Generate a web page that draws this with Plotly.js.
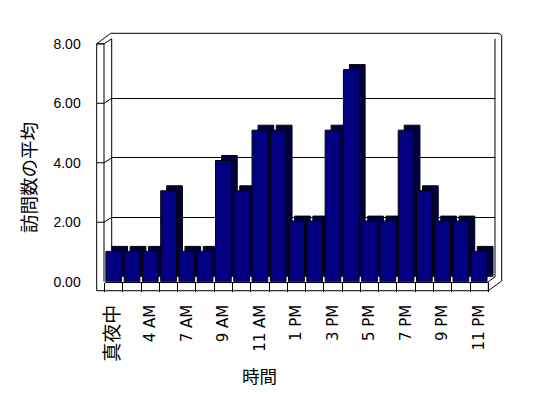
<!DOCTYPE html>
<html><head><meta charset="utf-8">
<script src="https://cdn.plot.ly/plotly-3.0.1.min.js"></script>
<style>html,body{margin:0;padding:0;background:#fff;}#chart{width:548px;height:398px;}</style>
</head><body><div id="chart"></div>
<script>
// ---- data ----
const categories = ['真夜中','1 AM','4 AM','5 AM','7 AM','8 AM','9 AM','10 AM','11 AM','正午','1 PM','2 PM','3 PM','4 PM','5 PM','6 PM','7 PM','8 PM','9 PM','10 PM','11 PM'];
const visits = [1,1,1,3,1,1,4,3,5,5,2,2,5,7,2,2,5,3,2,2,1];
const labeledTicks = ['真夜中','4 AM','7 AM','9 AM','11 AM','1 PM','3 PM','5 PM','7 PM','9 PM','11 PM'];
const yTicks = [0,2,4,6,8];
const yTitle = '訪問数の平均';
const xTitle = '時間';

// ---- layout helpers (pixel -> paper) ----
const W = 548, H = 398;
const PX = x => x / W, PY = y => 1 - y / H;
const xr = [-0.5, categories.length - 0.5];
const yr = [0, 8];
const LAT = 'Liberation Sans, Arial, Noto Sans CJK JP, sans-serif';
const XLAB = 'DejaVu Sans, Noto Sans CJK JP, sans-serif';
const CJK = 'Noto Sans CJK JP, sans-serif';

const frontX = [PX(104.6), PX(488.3)];
const frontY = [PY(281.7), PY(39.3)];
const dx = 6, dy = 5;
const depthX = [PX(104.6 + dx), PX(488.3 + dx)];
const depthY = [PY(281.7 - dy), PY(39.3 - dy)];
const backX = [PX(111.7), PX(495)];
const backY = [PY(276.8), PY(38.8)];
const labelY = [PY(281.7), PY(43.8)];

const ticktext = categories.map(c => {
  if (!labeledTicks.includes(c)) return '';
  return /[^\x00-\x7F]/.test(c) ? '<span style="font-size:19px">' + c + '</span>' : c;
});

const traces = [
  {type: 'scatter', mode: 'none', x: categories, y: visits, xaxis: 'x', yaxis: 'y', hoverinfo: 'skip', showlegend: false},
  {type: 'bar', x: categories, y: visits, xaxis: 'x2', yaxis: 'y2',
   marker: {color: '#000040', line: {color: '#000000', width: 1}}, hoverinfo: 'skip', showlegend: false},
  {type: 'bar', x: categories, y: visits, xaxis: 'x3', yaxis: 'y3',
   marker: {color: '#000080', line: {color: '#000000', width: 1}}, hoverinfo: 'skip', showlegend: false},
  {type: 'scatter', mode: 'none', x: categories, y: visits, xaxis: 'x3', yaxis: 'y4', hoverinfo: 'skip', showlegend: false}
];

const hidden = {showgrid: false, zeroline: false, showticklabels: false, ticks: '', showline: false, fixedrange: true};

const seg = [
  [96.7,43.8, 104,43.8],
  [96.7,43.8, 96.7,290.7],
  [104,43.8, 104,281.7],
  [96.7,43.8, 110.7,33.3],
  [110.7,33.3, 499,33.3],
  [499,33.3, 501.7,35.5],
  [501.7,35.5, 501.7,281],
  [495,38.8, 495,276.8],
  [111.7,38.8, 111.7,276.8],
  [96.7,290.7, 488.3,290.7],
  [488.3,281.7, 488.3,290.7],
  [488.3,290.7, 501.7,281],
  [488.3,281.7, 495,276.8]
];
const shapes = seg.map(s => ({type: 'line', xref: 'paper', yref: 'paper', layer: 'below',
  x0: PX(s[0]), y0: PY(s[1]), x1: PX(s[2]), y1: PY(s[3]), line: {color: '#000', width: 1}}));
yTicks.filter(v => v > 0).forEach(v => {
  const yf = labelY[0] + v / 8 * (labelY[1] - labelY[0]);
  const yb = backY[0] + v / 8 * (backY[1] - backY[0]);
  shapes.push({type: 'line', xref: 'paper', yref: 'paper', layer: 'below',
    x0: PX(96.7), y0: yf, x1: PX(104), y1: yf, line: {color: '#000', width: 1}});
  shapes.push({type: 'line', xref: 'paper', yref: 'paper', layer: 'below',
    x0: PX(104), y0: yf, x1: backX[0], y1: yb, line: {color: '#000', width: 1}});
});

const layout = {
  width: W, height: H,
  margin: {l: 0, r: 0, t: 0, b: 0},
  paper_bgcolor: '#ffffff', plot_bgcolor: 'rgba(0,0,0,0)',
  showlegend: false, hovermode: false, bargap: 0.14,
  xaxis: Object.assign({}, hidden, {domain: backX, range: xr, anchor: 'y', type: 'category'}),
  yaxis: Object.assign({}, hidden, {domain: backY, range: yr, anchor: 'x', showgrid: true,
    gridcolor: '#000000', gridwidth: 1, tickmode: 'array', tickvals: yTicks.filter(v => v > 0)}),
  xaxis2: Object.assign({}, hidden, {domain: depthX, range: xr, anchor: 'y2', type: 'category'}),
  yaxis2: Object.assign({}, hidden, {domain: depthY, range: yr, anchor: 'x2'}),
  xaxis3: {domain: frontX, range: xr, anchor: 'y3', type: 'category', fixedrange: true,
    showgrid: false, zeroline: false, showline: true, linecolor: '#000', linewidth: 1,
    tickmode: 'array', tickvals: categories, ticktext: ticktext, tickson: 'boundaries',
    ticks: 'outside', ticklen: 9, tickcolor: '#000', tickwidth: 1,
    tickangle: -90, ticklabelstandoff: 16,
    tickfont: {family: XLAB, size: 15, color: '#000'}},
  yaxis3: Object.assign({}, hidden, {domain: frontY, range: yr, anchor: 'x3'}),
  yaxis4: {domain: labelY, range: yr, anchor: 'free', position: PX(96.7), side: 'left', fixedrange: true,
    showgrid: false, zeroline: false, showline: false,
    tickmode: 'array', tickvals: yTicks, tickformat: '.2f',
    ticks: '', ticklabelstandoff: 16,
    tickfont: {family: LAT, size: 14, color: '#000'}},
  shapes: shapes,
  annotations: [
    {text: yTitle, xref: 'paper', yref: 'paper', x: PX(27.5), y: PY(177.5), textangle: -90,
     showarrow: false, xanchor: 'center', yanchor: 'middle', font: {family: CJK, size: 18.5, color: '#000'}},
    {text: xTitle, xref: 'paper', yref: 'paper', x: PX(259), y: PY(375),
     showarrow: false, xanchor: 'center', yanchor: 'middle', font: {family: CJK, size: 17.5, color: '#000'}}
  ]
};

Plotly.newPlot('chart', traces, layout, {staticPlot: true, displayModeBar: false});
</script>
</body></html>
